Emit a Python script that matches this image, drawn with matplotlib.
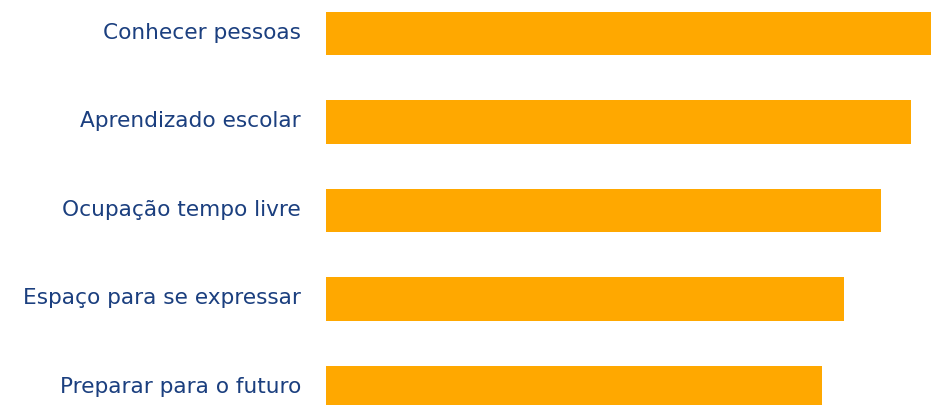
import matplotlib
matplotlib.use("Agg")
import matplotlib.pyplot as plt
import matplotlib.transforms as mtransforms

categories = ["Conhecer pessoas", "Aprendizado escolar", "Ocupação tempo livre",
              "Espaço para se expressar", "Preparar para o futuro"]
values = [100.0, 96.7, 91.7, 85.6, 82.0]

bar_color = "#FFA800"
text_color = "#1B3F7F"

fig = plt.figure(figsize=(9.31, 4.06), dpi=100)
ax = fig.add_axes([326/931, 0, (931-326)/931, 1])
y = list(range(len(categories)))
ax.barh(y, values, height=0.49, color=bar_color)
ax.set_xlim(0, max(values))
ax.set_ylim(4.197, -0.39)
ax.set_yticks(y)
ax.set_yticklabels(categories, fontsize=15.6, color=text_color, family="DejaVu Sans",
                   va="center")
ax.tick_params(axis="y", length=0, pad=18)
ax.set_xticks([])
shift = mtransforms.ScaledTranslation(0, 2 / 100, fig.dpi_scale_trans)
for lab in ax.get_yticklabels():
    lab.set_transform(lab.get_transform() + shift)
for s in ax.spines.values():
    s.set_visible(False)
fig.savefig("out.png", dpi=100)
